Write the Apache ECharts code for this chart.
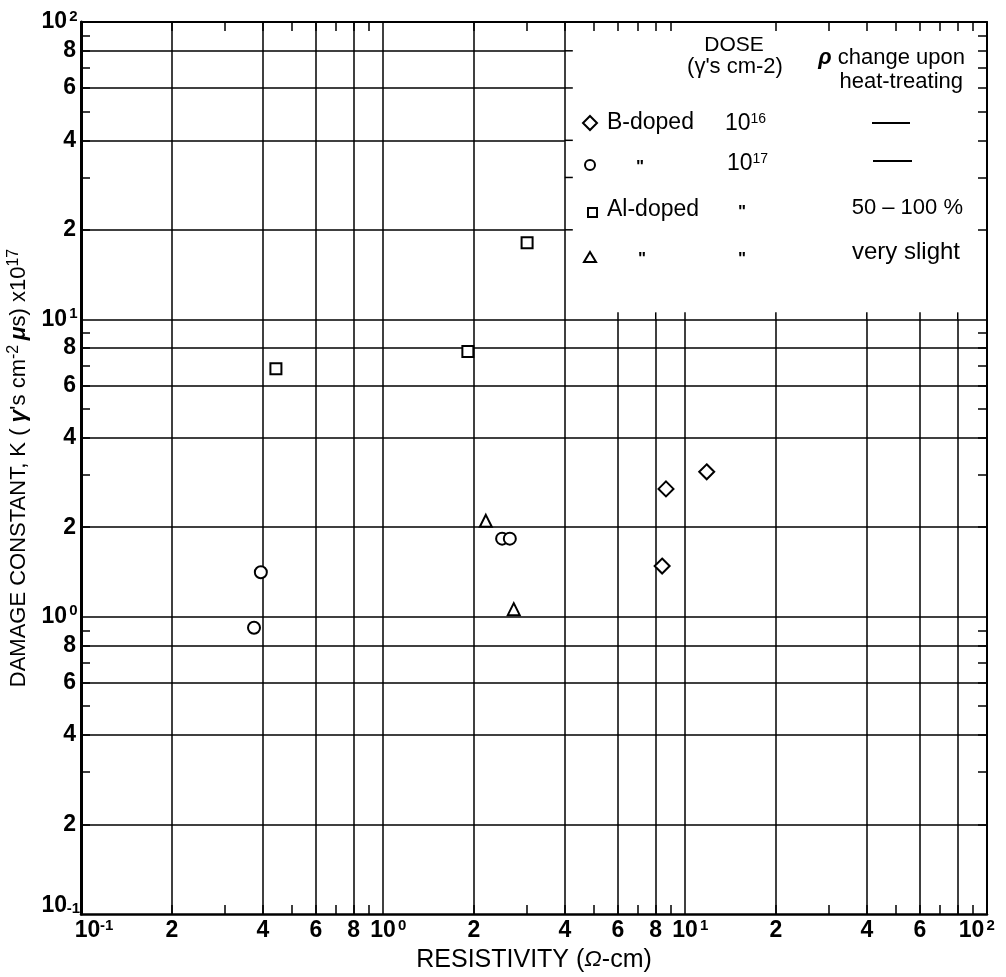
<!DOCTYPE html>
<html><head><meta charset="utf-8">
<script src="https://cdn.jsdelivr.net/npm/echarts@6/dist/echarts.min.js"></script>
<style>html,body{margin:0;padding:0;background:#fff}#c{width:1006px;height:977px}</style>
</head><body><div id="c"></div>
<script>
// ---- data (resistivity in ohm-cm, damage constant K x1e17) ----
const bDoped16 = [[8.65, 2.69], [11.8, 3.07], [8.40, 1.48]];
const bDoped17 = [[0.374, 0.918], [0.394, 1.41], [2.48, 1.83], [2.63, 1.83]];
const alDoped17 = [[0.442, 6.82], [1.91, 7.79], [3.00, 18.1]];
const alDopedSlight = [[2.19, 2.10], [2.71, 1.06]];

const axisMin = 0.1, axisMax = 100;
const gridValues = [0.2, 0.4, 0.6, 0.8, 1, 2, 4, 6, 8, 10, 20, 40, 60, 80];
const tickValues = [0.2, 0.3, 0.4, 0.5, 0.6, 0.7, 0.8, 0.9, 2, 3, 4, 5, 6, 7, 8, 9, 20, 30, 40, 50, 60, 70, 80, 90];
const xLabelValues = [0.1, 0.2, 0.4, 0.6, 0.8, 1, 2, 4, 6, 8, 10, 20, 40, 60, 100];
const yLabelValues = [0.1, 0.2, 0.4, 0.6, 0.8, 1, 2, 4, 6, 8, 10, 20, 40, 60, 80, 100];
const boxCorner = [4, 10];           // legend box lower-left corner (data coords)
const boxLeftStubs = [20, 30, 40, 60, 80];
const boxBottomStubs = [6, 8, 10, 20, 40, 60, 80];

const F = '"Liberation Sans", Arial, Helvetica, sans-serif';

function decadeExp(v) { const e = Math.log10(v); const r = Math.round(e); return Math.abs(e - r) < 1e-6 ? r : null; }
function leadDigit(v) { const e = Math.floor(Math.log10(v) + 1e-9); return Math.round(v / Math.pow(10, e)); }
function supText(e) { return e < 0 ? '-' + (-e) : String(e); }
function near(a, b) { return Math.abs(Math.log10(a) - Math.log10(b)) < 1e-6; }

function xLabel(v) {
  const e = decadeExp(v);
  if (e === null) return '{d|' + leadDigit(v) + '}';
  if (near(v, axisMin)) return '{padL| }{b|10}{s|' + supText(e) + '}';
  if (near(v, axisMax)) return '{b|10}{s|' + supText(e) + '}{padR| }';
  return '{pad| }{b|10}{s|' + supText(e) + '}';
}
function yLabel(v) {
  const e = decadeExp(v);
  if (e === null) return '{dy|' + leadDigit(v) + '}';
  if (near(v, axisMin)) return '{bb|10}{s|' + supText(e) + '}';
  return '{b|10}{s|' + supText(e) + '}';
}
const labelRich = {
  d: { fontSize: 23, fontWeight: 'bold', fontFamily: F, lineHeight: 26, color: '#000' },
  dy: { fontSize: 23, fontWeight: 'bold', fontFamily: F, lineHeight: 26, color: '#000', padding: [0, 4, 0, 0] },
  b: { fontSize: 23, fontWeight: 'bold', fontFamily: F, lineHeight: 26, color: '#000' },
  bb: { fontSize: 23, fontWeight: 'bold', fontFamily: F, lineHeight: 26, color: '#000', padding: [0, 0, 16, 0] },
  s: { fontSize: 15, fontWeight: 'bold', fontFamily: F, lineHeight: 10, verticalAlign: 'top', color: '#000', width: 13, align: 'left' },
  pad: { width: 13 }, padL: { width: 26 }, padR: { width: 18 }
};

// grid lines as mark lines (cut around legend box)
const gridLines = [];
gridValues.forEach(function (x) {
  const yEnd = x > boxCorner[0] ? boxCorner[1] : axisMax;
  gridLines.push([{ coord: [x, axisMin] }, { coord: [x, yEnd] }]);
});
gridValues.forEach(function (y) {
  const xEnd = y > boxCorner[1] ? boxCorner[0] : axisMax;
  gridLines.push([{ coord: [axisMin, y] }, { coord: [xEnd, y] }]);
});

function logAxis(extra) {
  return Object.assign({
    type: 'log', logBase: 10, min: axisMin, max: axisMax,
    axisLine: { show: true, onZero: false, lineStyle: { color: '#000', width: 2.5 } },
    axisTick: { show: true, inside: true, length: 9, customValues: tickValues, lineStyle: { color: '#000', width: 1.5 } },
    splitLine: { show: false }, minorTick: { show: false }, minorSplitLine: { show: false }
  }, extra);
}

const symStyle = { color: '#fff', borderColor: '#000', borderWidth: 2, opacity: 1 };

const chart = echarts.init(document.getElementById('c'));
chart.setOption({
  animation: false,
  backgroundColor: '#fff',
  grid: { left: 81, right: 19, top: 22, bottom: 63, containLabel: false, outerBoundsMode: 'none' },
  xAxis: [
    logAxis({
      position: 'bottom',
      axisLabel: { show: true, customValues: xLabelValues, margin: 4, formatter: xLabel, rich: labelRich, showMinLabel: true, showMaxLabel: true, hideOverlap: false },
      name: '{t|RESISTIVITY (}{o|Ω}{t|-cm)}', nameLocation: 'middle', nameGap: 31,
      nameTextStyle: { rich: {
        t: { fontSize: 25, fontFamily: F, color: '#000', lineHeight: 26 },
        o: { fontSize: 23, fontFamily: F, fontStyle: 'italic', color: '#000', lineHeight: 26 } } }
    }),
    logAxis({ position: 'top', axisLabel: { show: false }, axisLine: { show: true, onZero: false, lineStyle: { color: '#000', width: 2 } } })
  ],
  yAxis: [
    logAxis({
      position: 'left',
      axisLine: { show: true, onZero: false, lineStyle: { color: '#000', width: 3 } },
      axisLabel: { show: true, customValues: yLabelValues, margin: 1, formatter: yLabel, rich: labelRich, align: 'right', showMinLabel: true, showMaxLabel: true },
      name: '{t|DAMAGE CONSTANT, K ( }{g|γ}{t|\'s cm}{u|-2 }{g|μ}{t|s) x10}{u|17}',
      nameLocation: 'middle', nameGap: 34, nameRotate: 90,
      nameTextStyle: { rich: {
        t: { fontSize: 22, fontFamily: F, color: '#000', lineHeight: 26 },
        g: { fontSize: 23, fontFamily: F, fontWeight: 'bold', fontStyle: 'italic', color: '#000', lineHeight: 26 },
        u: { fontSize: 16, fontFamily: F, color: '#000', lineHeight: 10, verticalAlign: 'top' } } }
    }),
    logAxis({ position: 'right', axisLabel: { show: false }, axisLine: { show: true, onZero: false, lineStyle: { color: '#000', width: 2 } } })
  ],
  series: [
    { name: 'grid', type: 'scatter', data: [], z: 1, silent: true,
      markLine: { silent: true, symbol: ['none', 'none'], label: { show: false },
        lineStyle: { color: '#000', width: 1.5, type: 'solid', opacity: 1 },
        emphasis: { disabled: true }, animation: false, data: gridLines } },
    { name: 'B-doped 1e16', type: 'scatter', data: bDoped16, symbol: 'diamond', symbolSize: 15, itemStyle: symStyle, z: 5 },
    { name: 'B-doped 1e17', type: 'scatter', data: bDoped17, symbol: 'circle', symbolSize: 12, itemStyle: symStyle, z: 5 },
    { name: 'Al-doped 1e17', type: 'scatter', data: alDoped17, symbol: 'rect', symbolSize: 11, itemStyle: symStyle, z: 5 },
    { name: 'Al-doped slight', type: 'scatter', data: alDopedSlight, symbol: 'triangle', symbolSize: 12, itemStyle: symStyle, z: 5 }
  ]
});

// ---- legend table (text and sample symbols) ----
function txt(text, x, y, size, align, extra) {
  return { type: 'text', z: 100, x: x, y: y, style: Object.assign({
    text: text, fill: '#000', fontSize: size, fontFamily: F,
    align: align, textAlign: align, verticalAlign: 'middle', textVerticalAlign: 'middle' }, extra || {}) };
}
const stroke = { fill: '#fff', stroke: '#000', lineWidth: 2 };
const supRich = {
  b: { fontSize: 23, fontFamily: F, lineHeight: 24, fill: '#000' },
  s: { fontSize: 14, fontFamily: F, lineHeight: 8, verticalAlign: 'top', fill: '#000' }
};
const legendG = [
  txt('DOSE', 734, 45, 21, 'center'),
  txt('(γ\'s cm-2)', 735, 67, 22, 'center'),
  txt('{r|ρ} change upon', 965, 58, 22, 'right', { rich: { r: { fontSize: 22, fontWeight: 'bold', fontStyle: 'italic', fontFamily: F, fill: '#000' } } }),
  txt('heat-treating', 963, 82, 22, 'right'),
  // row 1
  { type: 'polygon', z: 100, shape: { points: [[590, 116], [597, 123], [590, 130], [583, 123]] }, style: stroke },
  txt('B-doped', 607, 123, 23, 'left'),
  txt('{b|10}{s|16}', 725, 124, 23, 'left', { rich: supRich }),
  { type: 'line', z: 100, shape: { x1: 872, y1: 123, x2: 910, y2: 123 }, style: { stroke: '#000', lineWidth: 2 } },
  // row 2
  { type: 'circle', z: 100, shape: { cx: 590, cy: 165, r: 5 }, style: stroke },
  txt('"', 640, 167, 17, 'center', { fontWeight: 'bold' }),
  txt('{b|10}{s|17}', 727, 164, 23, 'left', { rich: supRich }),
  { type: 'line', z: 100, shape: { x1: 873, y1: 161, x2: 912, y2: 161 }, style: { stroke: '#000', lineWidth: 2 } },
  // row 3
  { type: 'rect', z: 100, shape: { x: 588, y: 208, width: 9, height: 9 }, style: stroke },
  txt('Al-doped', 607, 210, 23, 'left'),
  txt('"', 742, 212, 17, 'center', { fontWeight: 'bold' }),
  txt('50 – 100 %', 963, 208, 22, 'right'),
  // row 4
  { type: 'polygon', z: 100, shape: { points: [[590, 252], [596, 262], [584, 262]] }, style: stroke },
  txt('"', 642, 259, 17, 'center', { fontWeight: 'bold' }),
  txt('"', 742, 259, 17, 'center', { fontWeight: 'bold' }),
  txt('very slight', 960, 252, 24, 'right')
];

// short grid stubs along the legend box's left and bottom borders
const stubs = [];
boxLeftStubs.forEach(function (y) {
  const p = chart.convertToPixel({ gridIndex: 0 }, [boxCorner[0], y]);
  stubs.push({ type: 'line', z: 50, shape: { x1: p[0], y1: p[1], x2: p[0] + 8, y2: p[1] }, style: { stroke: '#000', lineWidth: 1.5 } });
});
boxBottomStubs.forEach(function (x) {
  const p = chart.convertToPixel({ gridIndex: 0 }, [x, boxCorner[1]]);
  stubs.push({ type: 'line', z: 50, shape: { x1: p[0], y1: p[1], x2: p[0], y2: p[1] - 7 }, style: { stroke: '#000', lineWidth: 1.5 } });
});
chart.setOption({ graphic: { elements: legendG.concat(stubs) } });
</script>
</body></html>
